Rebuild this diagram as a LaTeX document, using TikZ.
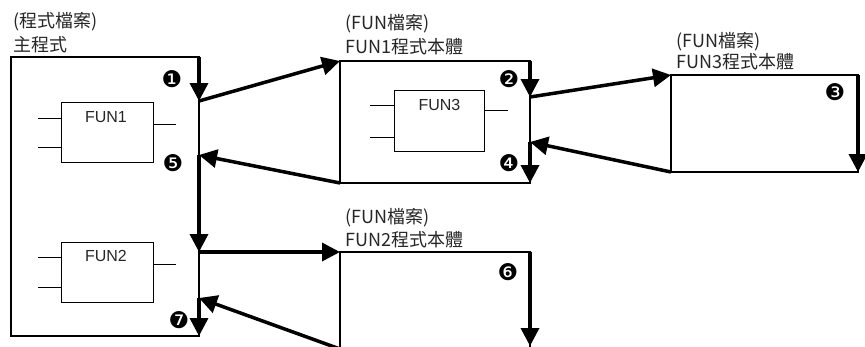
\documentclass[tikz,border=0pt]{standalone}
\usepackage{fontspec}
\setmainfont{Liberation Sans}
\newfontfamily\cjkfont{Noto Sans CJK TC}
\newfontfamily\dingfont{DejaVu Sans}
\usetikzlibrary{arrows.meta}

\tikzset{
  thinline/.style={line width=1.2pt, line cap=rect},
  flow/.style={line width=3.5pt, -{Triangle[length=18pt,width=18pt]}},
  fbox/.style={draw, line width=1pt, minimum width=92pt, minimum height=60pt, inner sep=0pt},
  fname/.style={font=\fontsize{16}{16}\selectfont, text=black!85, inner sep=0pt},
  lbl/.style={font=\cjkfont\fontsize{18}{18}\selectfont, text=black!85, anchor=west, inner sep=0pt},
  stepno/.style={font=\dingfont\fontsize{23}{23}\selectfont, inner sep=0pt},
  pin/.style={line width=1pt}
}

\begin{document}
\begin{tikzpicture}[x=1pt,y=-1pt]
\useasboundingbox (0,0) rectangle (865,346);
\clip (0,0) rectangle (865,346);

% ---- titles of the program bodies
\node[lbl] (tmain1) at (13,22) {(程式檔案)};
\node[lbl] (tmain2) at (13,45) {主程式};
\node[lbl] (tf1a) at (345,24) {(FUN檔案)};
\node[lbl] (tf1b) at (345,47) {FUN1程式本體};
\node[lbl] (tf3a) at (676,42) {(FUN檔案)};
\node[lbl] (tf3b) at (676,62) {FUN3程式本體};
\node[lbl] (tf2a) at (345,218) {(FUN檔案)};
\node[lbl] (tf2b) at (345,240) {FUN2程式本體};

% ---- corner and turning points
\coordinate (mTR) at (199,57);
\coordinate (mBR) at (199,336);
\coordinate (m1) at (199,101);
\coordinate (m5) at (199,155);
\coordinate (m2) at (199,252);
\coordinate (m7) at (199,298);

\coordinate (aTL) at (340,61);
\coordinate (aTR) at (530,61);
\coordinate (aBL) at (340,183);
\coordinate (aBR) at (530,183);
\coordinate (a2) at (530,97);
\coordinate (a4) at (530,142);

\coordinate (cTL) at (671,75);
\coordinate (cTR) at (858,75);
\coordinate (cBL) at (671,172);
\coordinate (cBR) at (858,172);

\coordinate (bTL) at (340,252);
\coordinate (bTR) at (530,252);
\coordinate (bBL) at (340,349);
\coordinate (bBR) at (530,346);

% ---- outlines of the program bodies
\draw[thinline] (mTR) -- (11,57) -- (11,336) -- (mBR) -- cycle;
\draw[thinline] (aTL) rectangle (aBR);
\draw[thinline] (cTL) rectangle (cBR);
\draw[thinline] (bBL) -- (bTL) -- (bTR) -- (bBR);

% ---- function blocks
\node[fbox] (fun1) at (107,132) {};
\node[fname] (fun1t) at (106,117) {FUN1};
\draw[pin] ([yshift=-15pt]fun1.west) coordinate (f1i1) -- ++(-23,0);
\draw[pin] ([yshift=14pt]fun1.west) coordinate (f1i2) -- ++(-23,0);
\draw[pin] ([yshift=8pt]fun1.east) coordinate (f1o) -- ++(22,0);

\node[fbox] (fun2) at (107,272) {};
\node[fname] (fun2t) at (106,256) {FUN2};
\draw[pin] ([yshift=-15pt]fun2.west) coordinate (f2i1) -- ++(-23,0);
\draw[pin] ([yshift=15pt]fun2.west) coordinate (f2i2) -- ++(-23,0);
\draw[pin] ([yshift=8pt]fun2.east) coordinate (f2o) -- ++(22,0);

\node[fbox, minimum width=90pt, minimum height=61pt] (fun3) at (439,120.5) {};
\node[fname] (fun3t) at (439.5,105) {FUN3};
\draw[pin] ([yshift=-16.5pt]fun3.west) coordinate (f3i1) -- ++(-24,0);
\draw[pin] ([yshift=15.5pt]fun3.west) coordinate (f3i2) -- ++(-24,0);
\draw[pin] ([yshift=10.5pt]fun3.east) coordinate (f3o) -- ++(23,0);

% ---- execution flow
\draw[flow] (mTR) -- (m1);
\draw[flow] (m1) -- (aTL);
\draw[flow] (aTR) -- (a2);
\draw[flow] (a2) -- (cTL);
\draw[flow] (cTR) -- (cBR);
\draw[flow] (cBL) -- (a4);
\draw[flow] (a4) -- (aBR);
\draw[flow] (aBL) -- (m5);
\draw[flow] (m5) -- (m2);
\draw[flow] (m2) -- (bTL);
\draw[flow] (bTR) -- (bBR);
\draw[flow] (bBL) -- (m7);
\draw[flow] (m7) -- (mBR);

% ---- step numbers
\node[stepno] (s1) at (172,79) {❶};
\node[stepno] (s2) at (509,79) {❷};
\node[stepno] (s3) at (835,92) {❸};
\node[stepno] (s4) at (509,163) {❹};
\node[stepno] (s5) at (173,163) {❺};
\node[stepno] (s6) at (508,272) {❻};
\node[stepno] (s7) at (179,320) {❼};
\end{tikzpicture}
\end{document}
